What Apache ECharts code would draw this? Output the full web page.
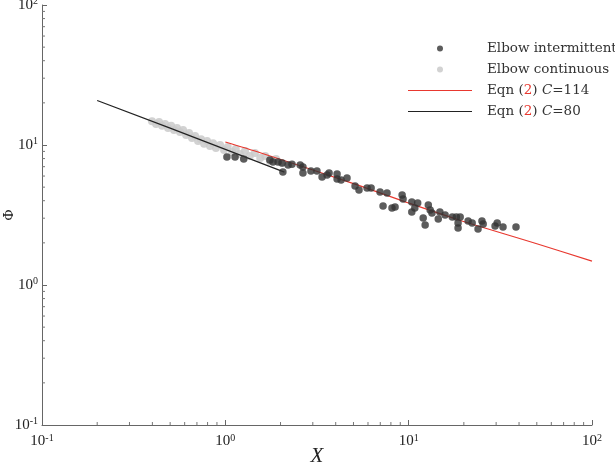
<!DOCTYPE html>
<html lang="en">
<head>
  <meta charset="UTF-8">
  <title>Elbow Φ vs X</title>
  <script src="https://cdn.jsdelivr.net/npm/echarts@6/dist/echarts.min.js"></script>
  <style>
    html, body { margin: 0; padding: 0; background: #fff; }
    #chart { width: 615px; height: 466px; }
  </style>
</head>
<body>
  <div id="chart"></div>
  <script>
    // Elbow intermittent (dark points) [X, Φ]
    const intermittent = [
      [1.02, 8.2], [1.13, 8.2], [1.26, 7.94], [1.75, 7.81], [1.82, 7.56], [1.94, 7.56],
      [2.04, 7.44], [2.06, 6.42], [2.2, 7.2], [2.31, 7.3], [2.56, 7.2], [2.65, 6.97],
      [2.65, 6.31], [2.93, 6.52], [3.16, 6.52], [3.37, 5.91], [3.59, 6.1], [3.68, 6.31],
      [4.07, 6.21], [4.07, 5.72], [4.28, 5.62], [4.61, 5.81], [5.1, 5.1], [5.36, 4.77],
      [5.93, 4.93], [6.24, 4.93], [6.98, 4.62], [7.62, 4.54], [7.25, 3.67], [8.11, 3.55],
      [8.43, 3.61], [9.21, 4.39], [9.32, 4.11], [10.4, 3.92], [11.2, 3.85], [10.4, 3.32],
      [10.8, 3.55], [12.8, 3.73], [13.1, 3.43], [13.4, 3.27], [12.0, 3.01], [12.3, 2.68],
      [14.8, 3.32], [14.5, 2.96], [15.8, 3.16], [17.3, 3.06], [18.2, 3.06], [19.1, 3.06],
      [18.6, 2.77], [18.6, 2.55], [21.1, 2.87], [22.2, 2.77], [23.9, 2.51], [25.1, 2.87],
      [25.5, 2.73], [29.6, 2.64], [30.4, 2.77], [32.7, 2.6], [38.5, 2.6]
    ];
    // Elbow continuous (light grey points)
    const continuous = [
      [0.398, 14.8], [0.419, 14.1], [0.435, 14.6], [0.452, 13.7], [0.469, 14.1], [0.487, 13.2],
      [0.506, 13.7], [0.525, 12.8], [0.545, 13.2], [0.566, 12.4], [0.588, 12.8], [0.611, 11.8],
      [0.634, 12.2], [0.658, 11.2], [0.684, 11.6], [0.71, 10.7], [0.737, 11.0], [0.766, 10.2],
      [0.795, 10.7], [0.825, 9.84], [0.857, 10.3], [0.889, 9.52], [0.936, 10.0], [0.984, 9.2],
      [1.03, 9.68], [1.09, 8.91], [1.14, 9.36], [1.2, 8.62], [1.28, 9.06], [1.36, 8.34],
      [1.45, 8.77], [1.55, 8.07], [1.65, 8.34], [1.75, 7.69], [1.89, 7.94], [2.04, 7.44]
    ];
    // Eqn (2) curves
    const eqnC114 = [[1, 10.5], [1.55, 8.8], [5, 5.3], [10, 3.85], [19, 2.9], [50, 1.97], [100, 1.48]];
    const eqnC80 = [[0.2, 20.8], [0.5, 13.2], [1, 9.3], [2.1, 6.4]];

    const xDecades = [0.1, 1, 10, 100];
    const yDecades = [0.1, 1, 10, 100];

    const serif = "'Liberation Serif', 'DejaVu Serif', serif";
    const legendFont = "'DejaVu Serif', serif";

    // minor tick positions 2..9 in each decade
    function minorTicks(decades) {
      const out = [];
      for (let i = 0; i < decades.length - 1; i++) {
        for (let k = 2; k <= 9; k++) out.push(decades[i] * k);
      }
      return out;
    }
    const xMinor = minorTicks(xDecades);
    const yMinor = minorTicks(yDecades);

    function powLabel(v) {
      const e = Math.round(Math.log10(v));
      return '{b|10}{s|' + e + '}';
    }
    const labelRich = {
      b: { fontFamily: serif, fontSize: 15, color: '#222', lineHeight: 17 },
      s: { fontFamily: serif, fontSize: 10, color: '#222', verticalAlign: 'top', lineHeight: 8, padding: [0, 0, 7, 0] }
    };

    const chart = echarts.init(document.getElementById('chart'));

    const option = {
      backgroundColor: '#fff',
      animation: false,
      grid: { left: 42, right: 23, top: 5, bottom: 41, containLabel: false, outerBoundsMode: 'none' },
      legend: {
        orient: 'vertical',
        left: 408,
        top: 41,
        padding: 0,
        itemWidth: 64,
        itemHeight: 6,
        itemGap: 6,
        data: [
          { name: 'Elbow intermittent' },
          { name: 'Elbow continuous' },
          { name: 'C114', icon: 'path://M0,0 L64,0 L64,1 L0,1 Z', itemStyle: { color: '#e8382f' } },
          { name: 'C80', icon: 'path://M0,0 L64,0 L64,1 L0,1 Z', itemStyle: { color: '#222' } }
        ],
        formatter: function (name) {
          if (name === 'C114') return '{a|Eqn (}{r|2}{a|) }{c|C}{a|=114}';
          if (name === 'C80') return '{a|Eqn (}{r|2}{a|) }{c|C}{a|=80}';
          return '{a|' + name + '}';
        },
        textStyle: {
          fontFamily: legendFont, fontSize: 13.5, color: '#333', lineHeight: 15, padding: [0, 0, 0, 10],
          rich: {
            a: { fontFamily: legendFont, fontSize: 13.5, color: '#333' },
            r: { fontFamily: legendFont, fontSize: 13.5, color: '#e8382f' },
            c: { fontFamily: legendFont, fontSize: 13.5, color: '#333', fontStyle: 'italic' }
          }
        }
      },
      xAxis: {
        type: 'log',
        min: 0.1,
        max: 100,
        logBase: 10,
        name: 'X',
        nameLocation: 'middle',
        nameGap: 21,
        nameMoveOverlap: false,
        nameTextStyle: { fontFamily: serif, fontSize: 21, fontStyle: 'italic', color: '#222' },
        axisLine: { lineStyle: { color: '#666', width: 1 } },
        axisTick: { inside: true, length: 5, lineStyle: { color: '#666' } },
        axisLabel: { formatter: powLabel, rich: labelRich, margin: 8 },
        splitLine: { show: false },
        minorTick: { show: false }
      },
      yAxis: {
        type: 'log',
        min: 0.1,
        max: 100,
        logBase: 10,
        name: 'Φ',
        nameLocation: 'middle',
        nameGap: 25,
        nameMoveOverlap: false,
        nameRotate: 90,
        nameTextStyle: { fontFamily: serif, fontSize: 15, color: '#222' },
        axisLine: { lineStyle: { color: '#666', width: 1 } },
        axisTick: { inside: true, length: 5, lineStyle: { color: '#666' } },
        axisLabel: { formatter: powLabel, rich: labelRich, margin: 4 },
        splitLine: { show: false },
        minorTick: { show: false }
      },
      series: [
        {
          name: 'Elbow continuous',
          type: 'scatter',
          data: continuous,
          symbol: 'circle',
          symbolSize: 8,
          itemStyle: { color: '#cacaca', opacity: 0.85 },
          z: 2
        },
        {
          name: 'C80',
          type: 'line',
          data: eqnC80,
          symbol: 'none',
          lineStyle: { color: '#222', width: 1.2 },
          itemStyle: { color: '#222' },
          z: 3
        },
        {
          name: 'C114',
          type: 'line',
          data: eqnC114,
          symbol: 'none',
          smooth: 0.3,
          lineStyle: { color: '#e8382f', width: 1.2 },
          itemStyle: { color: '#e8382f' },
          z: 3
        },
        {
          name: 'Elbow intermittent',
          type: 'scatter',
          data: intermittent,
          symbol: 'circle',
          symbolSize: 7.5,
          itemStyle: { color: '#333' },
          z: 4
        },
        {
          // minor ticks along both axes, positioned through the axis scales
          type: 'custom',
          silent: true,
          data: [0],
          z: 1,
          renderItem: function (params, api) {
            const children = [];
            xMinor.forEach(function (v) {
              const p = api.coord([v, 0.1]);
              children.push({ type: 'line', shape: { x1: p[0], y1: p[1], x2: p[0], y2: p[1] - 3 }, style: { stroke: '#777', lineWidth: 1 } });
            });
            yMinor.forEach(function (v) {
              const p = api.coord([0.1, v]);
              children.push({ type: 'line', shape: { x1: p[0], y1: p[1], x2: p[0] + 3, y2: p[1] }, style: { stroke: '#777', lineWidth: 1 } });
            });
            return { type: 'group', children: children };
          }
        }
      ]
    };

    chart.setOption(option);
  </script>
</body>
</html>
